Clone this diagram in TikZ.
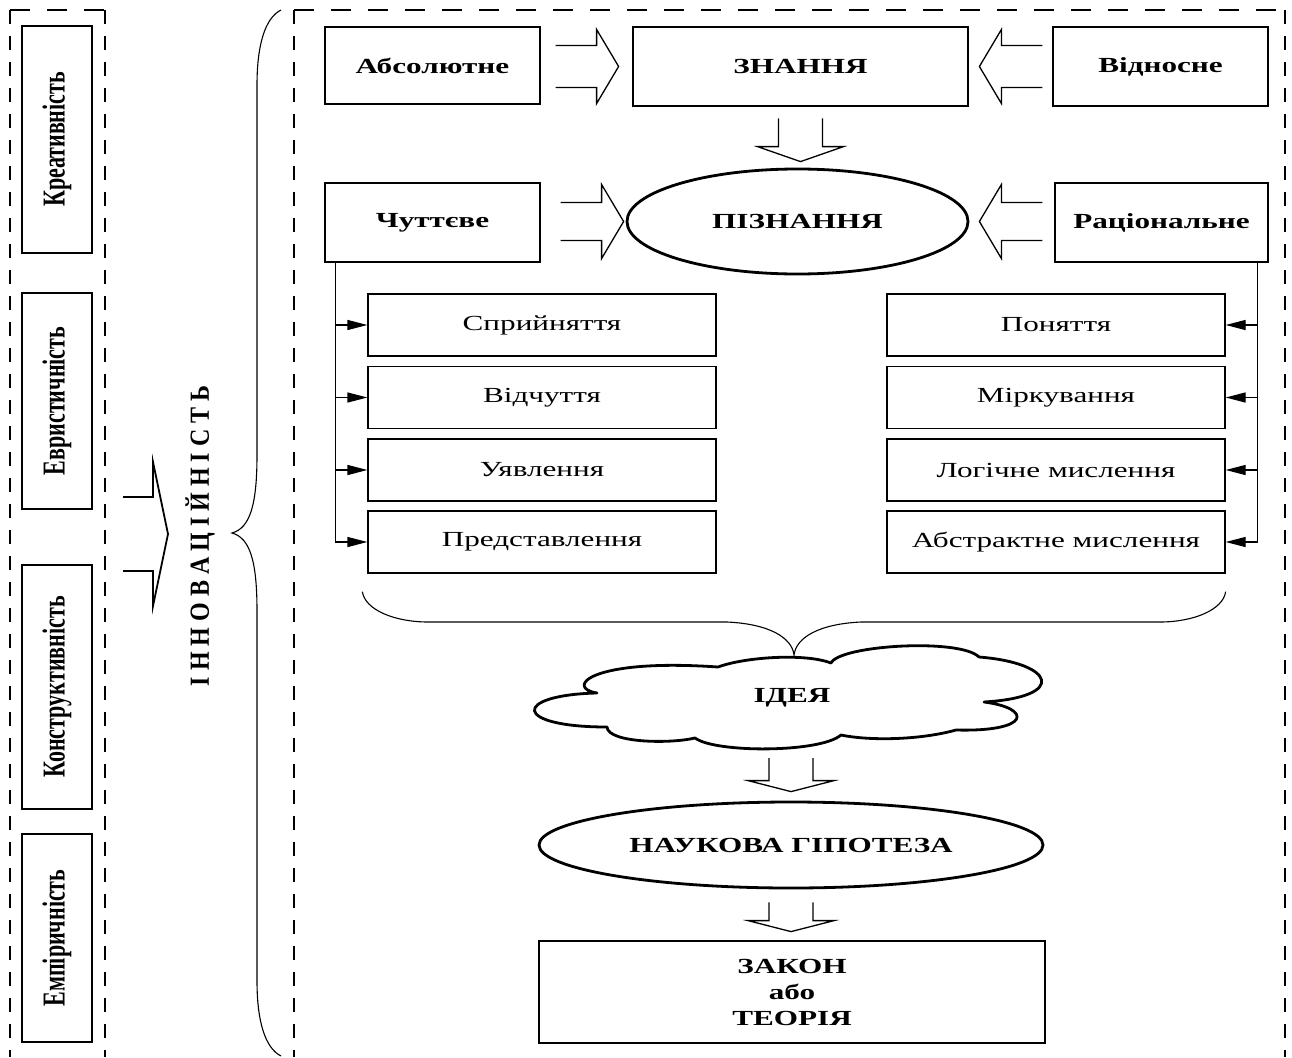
\documentclass[tikz,border=0pt]{standalone}
\usepackage{fontspec}
\setmainfont{Liberation Serif}[FakeStretch=1.45]
\newfontfamily\uprightfont{Liberation Serif}
\usetikzlibrary{shapes.geometric,arrows.meta,calc}

% hollow block arrow, horizontal: tail, tip, shaft half-width, head half-width, signed neck offset
\newcommand{\hollowH}[5]{%
  \draw[hollow] ($(#1)+(0,-#3)$) -- ($(#2)+(#5,-#3)$) -- ($(#2)+(#5,-#4)$) -- (#2)
    -- ($(#2)+(#5,#4)$) -- ($(#2)+(#5,#3)$) -- ($(#1)+(0,#3)$);}
% hollow block arrow, vertical
\newcommand{\hollowV}[5]{%
  \draw[hollow] ($(#1)+(-#3,0)$) -- ($(#2)+(-#3,#5)$) -- ($(#2)+(-#4,#5)$) -- (#2)
    -- ($(#2)+(#4,#5)$) -- ($(#2)+(#3,#5)$) -- ($(#1)+(#3,0)$);}
\newcommand{\sidelabel}[1]{\scalebox{1}[1.45]{\uprightfont\bfseries\fontsize{22}{22}\selectfont #1}}

\begin{document}
\begin{tikzpicture}[x=1pt,y=-1pt,
  cbox/.style={draw, line width=1.3pt, inner sep=0pt, align=center},
  cbold/.style={font=\fontsize{21.5}{26}\selectfont\bfseries},
  cplain/.style={font=\fontsize{21.5}{24}\selectfont},
  heavy/.style={line width=2.8pt},
  sidebox/.style={draw, line width=1.3pt, inner sep=0pt, rotate=90, minimum height=70pt},
  hollow/.style={line width=1.3pt, line join=miter},
  branch/.style={line width=1.3pt, -{Triangle[length=20pt,width=10pt]}},
  dashv/.style={line width=1.4pt, dash pattern=on 14pt off 12pt},
  dashh/.style={line width=1.4pt, dash pattern=on 20pt off 17pt},
]
\fill[white] (0,0) rectangle (1292,1057);
\useasboundingbox (0,0) rectangle (1292,1057);

% dashed frames (open at the bottom)
\draw[dashv] (10,10) -- (10,1057);
\draw[dashv] (105,10) -- (105,1057);
\draw[dashh] (10,10) -- (105,10);
\draw[dashv] (294,10) -- (294,1057);
\draw[dashv] (1285,10) -- (1285,1057);
\draw[dashh] (294,10) -- (1285,10);

% qualities column
\node[sidebox, minimum width=227pt] (kreat) at (57,139.5) {\sidelabel{Креативність}};
\node[sidebox, minimum width=216pt] (evr) at (57,401) {\sidelabel{Евристичність}};
\node[sidebox, minimum width=244pt] (konstr) at (57,687) {\sidelabel{Конструктивність}};
\node[sidebox, minimum width=208pt] (emp) at (57,938) {\sidelabel{Емпіричність}};

% innovativeness label, arrow and brace
\node[rotate=90, inner sep=0pt] (innov) at (200,536)
  {\scalebox{1}[1.15]{\uprightfont\bfseries\fontsize{24}{24}\selectfont І Н Н О В А Ц І Й Н І С Т Ь}};
\coordinate (qtail) at (123,534);
\coordinate (qtip) at (168,534);
\begin{scope}[hollow/.append style={line width=1.8pt}]
\hollowH{qtail}{qtip}{37}{72}{-15}
\end{scope}
\coordinate (btop) at (281,10);
\coordinate (btip) at (232,533);
\coordinate (bbot) at (281,1056);
\draw[line width=1.1pt] (btop) .. controls (265,18) and (257,45) .. (257,85) -- (257,455)
  .. controls (257,505) and (250,528) .. (btip)
  .. controls (250,538) and (257,561) .. (257,611) -- (257,981)
  .. controls (257,1021) and (265,1048) .. (bbot);

% knowledge row
\node[cbox, cbold, minimum width=215pt, minimum height=77pt] (abs) at (432.5,65.5) {Абсолютне};
\node[cbox, cbold, heavy, minimum width=335pt, minimum height=79pt] (zn) at (800.5,66.5) {ЗНАННЯ};
\node[cbox, cbold, minimum width=215pt, minimum height=79pt] (vid) at (1160.5,66.5) {\raisebox{-3pt}{Відносне}};

% cognition row
\node[cbox, cbold, minimum width=215pt, minimum height=79pt] (chut) at (432.5,222.5) {Чуттєве};
\node[draw, ellipse, heavy, cbold, inner sep=0pt, minimum width=341pt, minimum height=105pt] (piz) at (797.5,221.5) {ПІЗНАННЯ};
\node[cbox, cbold, minimum width=213pt, minimum height=79pt] (rac) at (1161.5,222.5) {Раціональне};

% hollow arrows in the upper part
\coordinate (a1t) at ($(zn.west)+(-13,0)$);
\coordinate (a1s) at ($(abs.east |- a1t)+(15,0)$);
\hollowH{a1s}{a1t}{21}{37}{-22}
\coordinate (a2t) at ($(zn.east)+(10,0)$);
\coordinate (a2s) at ($(vid.west |- a2t)+(-10,0)$);
\hollowH{a2s}{a2t}{21}{37}{22}
\coordinate (a3t) at ($(piz.west)+(-2,0)$);
\coordinate (a3s) at ($(chut.east |- a3t)+(20,0)$);
\hollowH{a3s}{a3t}{19}{37}{-22}
\coordinate (a4t) at ($(piz.east)+(10,0)$);
\coordinate (a4s) at ($(rac.west |- a4t)+(-12,0)$);
\hollowH{a4s}{a4t}{19}{37}{22}
\coordinate (a5s) at ($(zn.south)+(0,11)$);
\coordinate (a5t) at ($(zn.south |- piz.north)+(0,-6)$);
\hollowV{a5s}{a5t}{22}{43}{-15}

% sensory forms
\node[cbox, cplain, minimum width=348pt, minimum height=62pt] (s1) at (542,325) {Сприйняття};
\node[cbox, cplain, minimum width=348pt, minimum height=62pt] (s2) at (542,397.5) {Відчуття};
\node[cbox, cplain, minimum width=348pt, minimum height=62pt] (s3) at (542,470) {Уявлення};
\node[cbox, cplain, minimum width=348pt, minimum height=62pt] (s4) at (542,542) {Представлення};

% rational forms
\node[cbox, cplain, minimum width=338pt, minimum height=62pt] (r1) at (1056,325) {Поняття};
\node[cbox, cplain, minimum width=338pt, minimum height=62pt] (r2) at (1056,397.5) {Міркування};
\node[cbox, cplain, minimum width=338pt, minimum height=62pt] (r3) at (1056,470) {Логічне мислення};
\node[cbox, cplain, minimum width=338pt, minimum height=62pt] (r4) at (1056,542) {Абстрактне мислення};

% branching connectors
\coordinate (cl) at ($(chut.south west)+(11,0)$);
\draw[line width=1.3pt] (cl) -- (cl |- s4.west);
\foreach \n in {s1,s2,s3,s4} \draw[branch] (cl |- \n.west) -- (\n.west);
\coordinate (cr) at ($(rac.south east)+(-11,0)$);
\draw[line width=1.3pt] (cr) -- (cr |- r4.east);
\foreach \n in {r1,r2,r3,r4} \draw[branch] (cr |- \n.east) -- (\n.east);

% lower brace
\coordinate (lb1) at ($(s4.south west)+(-5,18)$);
\coordinate (lb2) at ($(r4.south east)+(0,18)$);
\coordinate (lbt) at (794,655);
\draw[line width=1.1pt] (lb1) .. controls (365,610) and (395,622) .. (428,622) -- (727,622)
  .. controls (770,624) and (792,638) .. (lbt)
  .. controls (796,638) and (818,624) .. (861,622) -- (1160,622)
  .. controls (1193,622) and (1223,610) .. (lb2);

% idea cloud
\node[cbold, inner sep=0pt] (idea) at (792,698) {ІДЕЯ};
\draw[heavy, line join=round] (718,667)
  .. controls (745,657) and (805,653) .. (831,663)
  .. controls (840,645) and (960,638) .. (979,657)
  .. controls (1055,663) and (1068,697) .. (984,702)
  .. controls (1032,708) and (1032,732) .. (956,730)
  .. controls (920,740) and (870,741) .. (841,735)
  .. controls (820,753) and (715,753) .. (695,738)
  .. controls (670,744) and (608,743) .. (607,727)
  .. controls (512,727) and (512,695) .. (597,693)
  .. controls (565,688) and (588,658) .. (718,667) -- cycle;

% hypothesis and law
\node[draw, ellipse, heavy, cbold, inner sep=0pt, minimum width=504pt, minimum height=86pt] (hyp) at (791,845) {НАУКОВА ГІПОТЕЗА};
\node[cbox, heavy, font=\fontsize{21.5}{26}\selectfont\bfseries, minimum width=506pt, minimum height=102pt] (law) at (792,992) {ЗАКОН\\або\\ТЕОРІЯ};

\coordinate (a6s) at (791,758);
\coordinate (a6t) at ($(hyp.north)+(0,-9)$);
\hollowV{a6s}{a6t}{22}{43}{-11}
\coordinate (a7s) at ($(hyp.south)+(0,13)$);
\coordinate (a7t) at ($(law.north -| hyp.south)+(0,-8)$);
\hollowV{a7s}{a7t}{22}{43}{-11}
\end{tikzpicture}
\end{document}
